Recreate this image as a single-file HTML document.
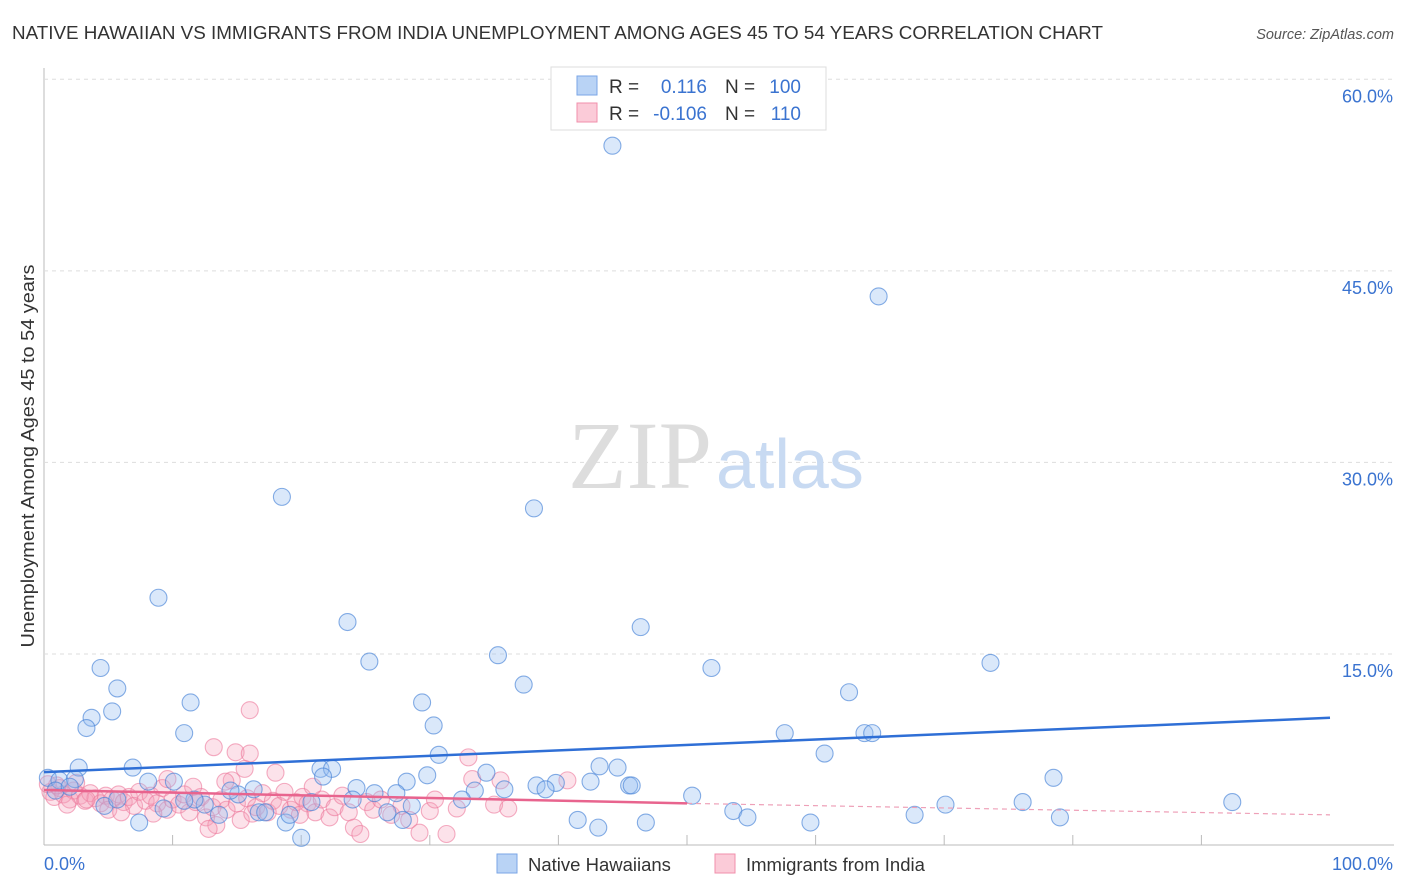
<!DOCTYPE html>
<html><head><meta charset="utf-8"><style>
body{margin:0;background:#fff;font-family:"Liberation Sans",sans-serif}
#c{position:absolute;left:0;top:0}
</style></head><body>
<svg id="c" width="1406" height="892">
<text x="12" y="39" font-size="18" fill="#333" textLength="1091" lengthAdjust="spacingAndGlyphs">NATIVE HAWAIIAN VS IMMIGRANTS FROM INDIA UNEMPLOYMENT AMONG AGES 45 TO 54 YEARS CORRELATION CHART</text>
<text x="1394" y="39" font-size="14.5" fill="#555" font-style="italic" text-anchor="end">Source: ZipAtlas.com</text>
<g id="grid"></g>
<text x="712" y="488" font-size="96" fill="#ddd" text-anchor="end" font-family="Liberation Serif,serif">ZIP</text>
<text x="716" y="488" font-size="70" fill="#c8daf2">atlas</text>
<g id="marks"></g>
<text transform="translate(34,456) rotate(-90)" font-size="18" fill="#333" text-anchor="middle" textLength="383" lengthAdjust="spacingAndGlyphs">Unemployment Among Ages 45 to 54 years</text>
<g>
<rect x="551" y="67" width="275" height="63" fill="#fff" stroke="#ddd"/>
<rect x="577" y="76" width="20" height="19" fill="#b9d3f5" stroke="#7aa6e6"/>
<rect x="577" y="103" width="20" height="19" fill="#fbcbd8" stroke="#f08fab"/>
<text x="609" y="93" font-size="19" fill="#333">R =</text><text x="707" y="93" font-size="19" fill="#3a73d0" text-anchor="end">0.116</text>
<text x="725" y="93" font-size="19" fill="#333">N =</text><text x="801" y="93" font-size="19" fill="#3a73d0" text-anchor="end">100</text>
<text x="609" y="120" font-size="19" fill="#333">R =</text><text x="707" y="120" font-size="19" fill="#3a73d0" text-anchor="end">-0.106</text>
<text x="725" y="120" font-size="19" fill="#333">N =</text><text x="801" y="120" font-size="19" fill="#3a73d0" text-anchor="end">110</text>
</g>
<g>
<rect x="497" y="854" width="20" height="19" fill="#b9d3f5" stroke="#7aa6e6"/>
<text x="528" y="871" font-size="18.5" fill="#333">Native Hawaiians</text>
<rect x="715" y="854" width="20" height="19" fill="#fbcbd8" stroke="#f08fab"/>
<text x="746" y="871" font-size="18.5" fill="#333">Immigrants from India</text>
</g>
</svg>
<script>
const yTicks=[15,30,45,60];
const xTickLabels=["0.0%","100.0%"];
const blueX=[44.2,64.9,18.5,38.1,8.9,23.6,46.4,25.3,35.3,4.4,51.9,73.6,5.7,37.3,62.6,11.4,29.4,5.3,3.7,3.3,30.3,10.9,57.6,63.8,64.4,30.7,60.7,2.7,6.9,21.5,22.4,34.4,43.2,44.6,78.5,29.8,28.2,8.1,10.1,42.5,45.5,45.7,38.3,39.8,39.0,24.3,21.7,33.5,0.3,1.2,2.4,16.3,15.1,25.7,27.4,32.5,35.8,50.4,53.6,54.7,59.6,67.7,70.1,76.1,79.0,92.4,41.5,43.1,46.8,28.6,26.7,27.9,24.0,20.8,18.8,19.1,16.7,17.2,13.6,7.4,12.5,11.7,10.9,9.3,4.7,5.7,20.0,0.9,2.0,14.5];
const blueY=[54.8,43.0,27.3,26.4,19.4,17.5,17.1,14.4,14.9,13.9,13.9,14.3,12.3,12.6,12.0,11.2,11.2,10.5,10.0,9.2,9.4,8.8,8.8,8.8,8.8,7.1,7.2,6.1,6.1,6.0,6.0,5.7,6.2,6.1,5.3,5.5,5.0,5.0,5.0,5.0,4.7,4.7,4.7,4.9,4.4,4.5,5.4,4.3,5.3,5.1,5.2,4.4,4.0,4.1,4.1,3.6,4.4,3.9,2.7,2.2,1.8,2.4,3.2,3.4,2.2,3.4,2.0,1.4,1.8,3.1,2.6,2.0,3.6,3.4,1.8,2.4,2.6,2.6,2.4,1.8,3.2,3.6,3.5,2.9,3.1,3.6,0.6,4.3,4.6,4.3];
const pinkX=[0.5,0.8,1.2,1.5,2,2.3,2.8,3.2,3.6,4,4.4,4.8,5.3,5.8,6.2,6.6,7,7.4,7.9,8.3,8.8,9.2,9.6,10,10.5,10.9,11.3,11.8,12.2,12.6,13.1,13.4,13.8,14.2,14.6,15,15.3,15.8,16.2,16.5,17,17.4,17.8,18.3,18.7,19.2,19.6,20.1,20.5,21.1,21.6,22.2,22.6,23.2,23.7,24.1,24.6,25.1,25.6,26.2,27.0,27.8,28.4,29.2,30.0,30.4,31.3,32.1,33.0,33.3,35.0,35.5,36.1,40.7,16.0,13.2,14.9,16.0,15.6,18.0,14.1,8.5,5.0,11.6,19.9,9.6,3.3,6.0,12.8,20.9,1.0,0.3,2.5,1.8];
const pinkY=[4.2,3.8,4.5,4.0,3.6,4.3,3.9,3.5,4.1,3.7,3.3,3.9,3.6,4.0,3.4,3.8,3.1,4.2,3.5,3.9,3.3,4.5,2.8,3.6,3.2,4.0,2.6,3.4,3.8,2.2,3.0,1.6,3.6,2.8,5.1,3.3,2.0,3.7,2.5,3.0,4.1,2.6,3.5,3.1,4.2,2.8,3.4,3.8,3.3,2.6,3.6,2.2,3.0,3.9,2.6,1.4,0.9,3.4,2.8,3.6,2.4,3.1,2.0,1.0,2.7,3.6,0.9,2.9,6.9,5.2,3.2,5.1,2.9,5.1,10.6,7.7,7.3,7.2,6.0,5.7,5.0,2.5,2.8,4.6,2.4,5.2,3.6,2.6,1.3,4.6,4.7,4.8,4.9,3.2];
const blueTrend=[5.75,10.0];
const pinkTrend=[4.35,3.3,2.4];
const X=v=>44+v*12.86, Y=v=>845.5-v*12.77;
const NS="http://www.w3.org/2000/svg";
function mk(p,t,a){const e=document.createElementNS(NS,t);for(const k in a)e.setAttribute(k,a[k]);p.appendChild(e);return e;}
const g=document.getElementById('grid'), m=document.getElementById('marks');
mk(g,'line',{x1:44,y1:68,x2:44,y2:845,stroke:'#bbb'});
mk(g,'line',{x1:44,y1:845,x2:1394,y2:845,stroke:'#bbb'});
yTicks.forEach(t=>{const l=mk(g,'line',{x1:44,y1:Y(t),x2:1394,y2:Y(t),stroke:'#ddd','stroke-dasharray':'4,4'});


const tx=mk(g,'text',{x:1393,y:Y(t)+23,'font-size':18,fill:'#3a73d0','text-anchor':'end'});tx.textContent=t.toFixed(1)+'%';

});
for(let i=1;i<10;i++){mk(g,'line',{x1:X(i*10),y1:835,x2:X(i*10),y2:845,stroke:'#bbb'});}
xTickLabels.forEach((s,i)=>{const tx=mk(g,'text',{x:i?1393:44,y:870,'font-size':18,fill:'#3a73d0','text-anchor':i?'end':'start'});tx.textContent=s;

});
pinkX.forEach((x,i)=>{const c=mk(m,'circle',{cx:X(x),cy:Y(pinkY[i]),r:8.5,fill:'rgba(246,160,186,0.3)',stroke:'rgba(236,120,155,0.6)','stroke-width':1.1});

});
blueX.forEach((x,i)=>{const c=mk(m,'circle',{cx:X(x),cy:Y(blueY[i]),r:8.5,fill:'rgba(150,190,240,0.35)',stroke:'rgba(70,130,215,0.65)','stroke-width':1.1});

});
const bl=mk(m,'line',{x1:X(0),y1:Y(blueTrend[0]),x2:X(100),y2:Y(blueTrend[1]),stroke:'#2f6fd6','stroke-width':2.5});


const pl=mk(m,'line',{x1:X(0),y1:Y(pinkTrend[0]),x2:X(50),y2:Y(pinkTrend[1]),stroke:'#e8648e','stroke-width':2.5});


const pd=mk(m,'line',{x1:X(50),y1:Y(pinkTrend[1]),x2:X(100),y2:Y(pinkTrend[2]),stroke:'#eea0b8','stroke-width':1.2,'stroke-dasharray':'5,4'});


</script>
</body></html>
